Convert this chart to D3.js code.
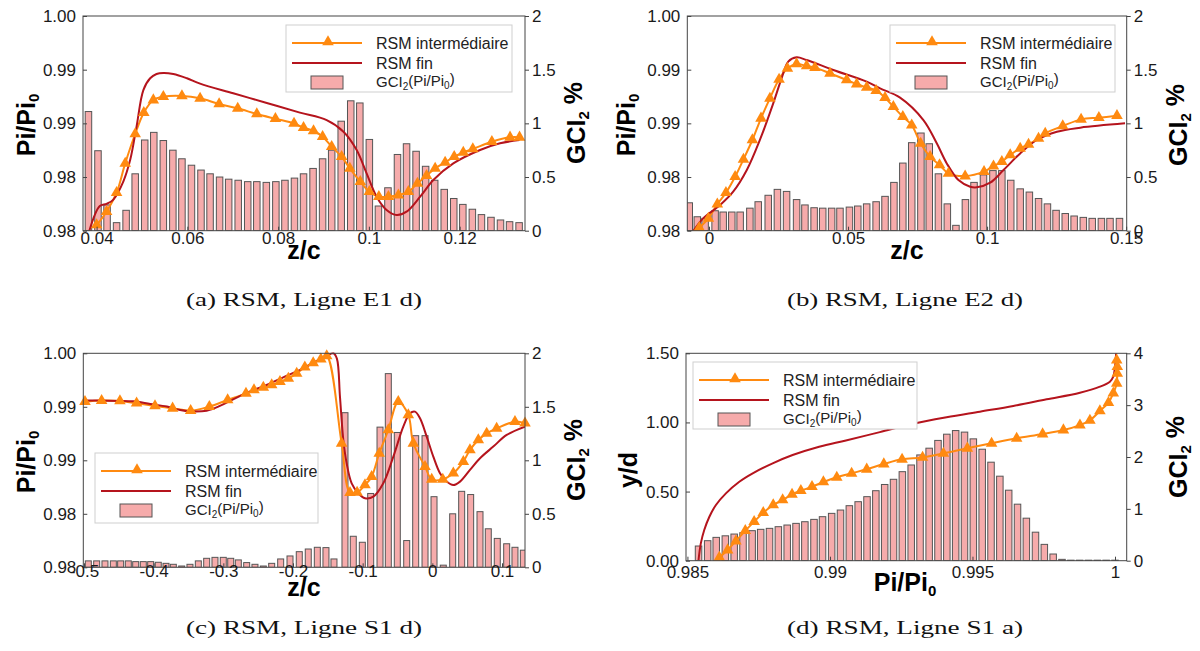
<!DOCTYPE html>
<html><head><meta charset="utf-8">
<script src="https://cdn.jsdelivr.net/npm/d3@7"></script>
<style>body{margin:0;background:#fff}svg{display:block}</style>
</head><body><svg id="chart" width="1200" height="651"></svg>
<script>
// ---------------- DATA ----------------
// Panel (a) RSM, Ligne E1 d)
const aBarZ = [0.0382,0.0403,0.0423,0.0444,0.0465,0.0485,0.0506,0.0526,0.0547,0.0568,0.0588,0.0609,0.0630,0.0650,0.0671,0.0691,0.0712,0.0733,0.0753,0.0774,0.0795,0.0815,0.0836,0.0856,0.0877,0.0898,0.0918,0.0939,0.0960,0.0980,0.1001,0.1021,0.1042,0.1063,0.1083,0.1104,0.1125,0.1145,0.1166,0.1187,0.1207,0.1228,0.1248,0.1269,0.1290,0.1310,0.1331];
const aBarGci = [1.11,0.745,0.24,0.075,0.19,0.53,0.845,0.916,0.84,0.75,0.67,0.61,0.565,0.53,0.50,0.48,0.47,0.457,0.457,0.45,0.457,0.47,0.49,0.53,0.58,0.67,0.75,1.02,1.21,1.19,0.85,0.23,0.40,0.71,0.81,0.74,0.60,0.47,0.385,0.30,0.245,0.20,0.15,0.125,0.10,0.084,0.075];
const aInter = [[0.0400,0.98053],[0.0422,0.98177],[0.0444,0.98354],[0.0463,0.98627],[0.0485,0.98901],[0.0504,0.99099],[0.0525,0.99217],[0.0547,0.99248],[0.0588,0.99255],[0.0628,0.99233],[0.0670,0.99180],[0.0711,0.99140],[0.0753,0.99087],[0.0794,0.99043],[0.0835,0.99000],[0.0856,0.98960],[0.0878,0.98929],[0.0898,0.98876],[0.0918,0.98783],[0.0940,0.98689],[0.0958,0.98581],[0.0981,0.98457],[0.1001,0.98363],[0.1022,0.98317],[0.1043,0.98317],[0.1065,0.98332],[0.1087,0.98363],[0.1107,0.98441],[0.1127,0.98512],[0.1146,0.98581],[0.1168,0.98637],[0.1188,0.98689],[0.1208,0.98730],[0.1229,0.98761],[0.1271,0.98829],[0.1311,0.98870],[0.1332,0.98870]];
const aFin = [[0.0384,0.9800],[0.0407,0.9823],[0.0422,0.9825],[0.0437,0.9829],[0.0459,0.9846],[0.0474,0.9866],[0.0488,0.9897],[0.0503,0.9931],[0.0518,0.9942],[0.0532,0.9946],[0.0547,0.9947],[0.0569,0.9946],[0.0599,0.9942],[0.0628,0.9937],[0.0701,0.9928],[0.0775,0.9919],[0.0848,0.9910],[0.0907,0.9903],[0.0944,0.98922],[0.0973,0.98752],[0.0995,0.98534],[0.1017,0.98317],[0.1039,0.98193],[0.1061,0.98146],[0.1083,0.98177],[0.1113,0.98317],[0.1142,0.98472],[0.1186,0.98627],[0.1245,0.98752],[0.1289,0.98814],[0.1332,0.98845]];
const aXTicks = [0.04,0.06,0.08,0.1,0.12];
const aXLabels = ["0.04","0.06","0.08","0.1","0.12"];

// Panel (b) RSM, Ligne E2 d)
const bBarZ = [-0.0071,-0.0042,-0.0014,0.0022,0.0051,0.0082,0.0112,0.0147,0.0177,0.0213,0.0246,0.0279,0.0315,0.0345,0.0378,0.0409,0.0441,0.0471,0.0505,0.0535,0.0567,0.0601,0.0633,0.0665,0.0697,0.0729,0.0762,0.0792,0.0825,0.0857,0.0888,0.0922,0.0953,0.0987,0.1021,0.1053,0.1085,0.1119,0.1152,0.1185,0.1217,0.1248,0.1281,0.1313,0.1346,0.1378,0.1411,0.1442,0.1476];
const bBarGci = [0.26,0.13,0.115,0.186,0.174,0.174,0.174,0.21,0.27,0.33,0.385,0.366,0.29,0.24,0.214,0.21,0.21,0.21,0.22,0.23,0.25,0.27,0.32,0.45,0.63,0.82,0.91,0.81,0.53,0.25,0.05,0.29,0.45,0.52,0.56,0.56,0.47,0.39,0.36,0.30,0.25,0.19,0.16,0.137,0.124,0.115,0.115,0.115,0.115];
const bInter = [[-0.0035,0.98028],[-0.0002,0.98115],[0.0030,0.98248],[0.0061,0.98354],[0.0094,0.98503],[0.0124,0.98665],[0.0156,0.98845],[0.0187,0.99047],[0.0219,0.99233],[0.0252,0.99410],[0.0282,0.99512],[0.0315,0.99553],[0.0351,0.99534],[0.0381,0.99519],[0.0435,0.99466],[0.0495,0.99404],[0.0531,0.99366],[0.0567,0.99335],[0.0601,0.99304],[0.0633,0.99239],[0.0663,0.99155],[0.0697,0.99062],[0.0729,0.98984],[0.0761,0.98814],[0.0795,0.98689],[0.0829,0.98612],[0.0861,0.98534],[0.0921,0.98509],[0.0989,0.98550],[0.1023,0.98602],[0.1053,0.98643],[0.1083,0.98705],[0.1119,0.98767],[0.1149,0.98804],[0.1185,0.98860],[0.1209,0.98907],[0.1272,0.98975],[0.1338,0.99037],[0.1402,0.99053],[0.1467,0.99071]];
const bFin = [[-0.0056,0.9800],[-0.0021,0.98115],[0.0040,0.98239],[0.0087,0.98363],[0.0136,0.98565],[0.0183,0.98845],[0.0231,0.99186],[0.0261,0.99419],[0.0285,0.99575],[0.0315,0.99615],[0.0351,0.99590],[0.0447,0.99497],[0.0567,0.99388],[0.0615,0.99326],[0.0687,0.99240],[0.0771,0.99031],[0.0819,0.98814],[0.0855,0.98627],[0.0897,0.98472],[0.0939,0.98410],[0.0963,0.98404],[0.1011,0.98447],[0.1059,0.98565],[0.1119,0.98720],[0.1179,0.98845],[0.1251,0.98922],[0.1335,0.98960],[0.1496,0.99000]];
const bXTicks = [0,0.05,0.1,0.15];
const bXLabels = ["0","0.05","0.1","0.15"];

// Panel (c) RSM, Ligne S1 d)
const cBarZ = [-0.4938,-0.4818,-0.4699,-0.4579,-0.4474,-0.4364,-0.4258,-0.4149,-0.4043,-0.3934,-0.3823,-0.3718,-0.3598,-0.3479,-0.3359,-0.3239,-0.3120,-0.3001,-0.2894,-0.2785,-0.2665,-0.2546,-0.2426,-0.2306,-0.2177,-0.2043,-0.1910,-0.1781,-0.1651,-0.1527,-0.1412,-0.1254,-0.1135,-0.1005,-0.0885,-0.0751,-0.0632,-0.0503,-0.0368,-0.0239,-0.0105,0.0024,0.0157,0.0292,0.0421,0.0550,0.0684,0.0803,0.0932,0.1067,0.1186,0.1306];
const cBarGci = [0.06,0.06,0.06,0.06,0.06,0.06,0.053,0.053,0.053,0.047,0.037,0.028,0.012,0.028,0.06,0.084,0.093,0.093,0.084,0.069,0.044,0.028,0.012,0.037,0.078,0.106,0.146,0.171,0.187,0.184,0.078,1.445,0.29,0.234,0.69,1.31,1.81,1.26,0.25,1.23,1.23,0.66,0.02,0.50,0.71,0.68,0.52,0.36,0.27,0.22,0.187,0.16];
const cInter = [[-0.4986,0.99548],[-0.4747,0.99558],[-0.4484,0.99555],[-0.4245,0.99533],[-0.3981,0.99508],[-0.3728,0.99486],[-0.3469,0.99464],[-0.3201,0.99502],[-0.2938,0.99564],[-0.2675,0.99626],[-0.2560,0.99657],[-0.2426,0.99682],[-0.2306,0.99704],[-0.2187,0.99735],[-0.2067,0.99766],[-0.1947,0.99813],[-0.1830,0.99870],[-0.1710,0.99910],[-0.1600,0.99945],[-0.1516,0.99975],[-0.1302,0.99159],[-0.1182,0.98698],[-0.1080,0.98700],[-0.0967,0.98769],[-0.0871,0.98847],[-0.0762,0.99065],[-0.0632,0.99283],[-0.0489,0.99548],[-0.0345,0.99424],[-0.0273,0.99159],[-0.0105,0.98941],[-0.0009,0.98822],[0.0150,0.98822],[0.0301,0.98879],[0.0445,0.98988],[0.0540,0.99097],[0.0660,0.99190],[0.0780,0.99252],[0.0923,0.99299],[0.1186,0.99361],[0.1330,0.99346]];
const cFin = [[-0.501,0.99558],[-0.477,0.99558],[-0.429,0.99551],[-0.405,0.99526],[-0.381,0.99502],[-0.362,0.99470],[-0.348,0.99458],[-0.324,0.99464],[-0.305,0.99508],[-0.286,0.99570],[-0.262,0.99642],[-0.238,0.99704],[-0.214,0.99775],[-0.190,0.99845],[-0.171,0.99910],[-0.152,0.99975],[-0.142,1.0000],[-0.137,0.99950],[-0.1326,0.99595],[-0.1278,0.99190],[-0.1230,0.98972],[-0.1158,0.98785],[-0.1062,0.98692],[-0.0967,0.98645],[-0.0847,0.98660],[-0.0704,0.98785],[-0.0560,0.99034],[-0.0417,0.99315],[-0.0321,0.99439],[-0.0249,0.99455],[-0.0177,0.99393],[-0.0081,0.99221],[0.0014,0.99034],[0.0110,0.98879],[0.0206,0.98801],[0.0301,0.98769],[0.0397,0.98801],[0.0540,0.98910],[0.0684,0.99019],[0.0875,0.99128],[0.1067,0.99237],[0.1330,0.99315]];
const cXTicks = [-0.5,-0.4,-0.3,-0.2,-0.1,0,0.1];
const cXLabels = ["-0.5","-0.4","-0.3","-0.2","-0.1","0","0.1"];

// Panel (d) RSM, Ligne S1 a)
const dBarPi = [0.98539,0.98571,0.98601,0.98633,0.98664,0.98695,0.98727,0.98757,0.98788,0.98819,0.98850,0.98881,0.98912,0.98944,0.98974,0.99006,0.99037,0.99068,0.99099,0.99130,0.99161,0.99192,0.99223,0.99254,0.99285,0.99316,0.99348,0.99379,0.99410,0.99441,0.99472,0.99503,0.99534,0.99565,0.99596,0.99627,0.99658,0.99689,0.99721,0.99752,0.99783,0.99814,0.99845,0.99876,0.99907,0.99938,0.99969,1.00000];
const dBarGci = [0.283,0.386,0.45,0.48,0.514,0.54,0.579,0.605,0.624,0.656,0.688,0.72,0.752,0.797,0.849,0.913,0.977,1.061,1.138,1.235,1.35,1.47,1.57,1.717,1.846,2.04,2.17,2.32,2.44,2.51,2.48,2.35,2.15,1.90,1.63,1.36,1.09,0.82,0.55,0.315,0.129,0.026,0.01,0.01,0.01,0.01,0.01,0.01];
const dInter = [[0.98612,0.024],[0.98641,0.077],[0.98670,0.142],[0.98703,0.217],[0.98734,0.282],[0.98766,0.347],[0.98801,0.403],[0.98834,0.439],[0.98867,0.480],[0.98898,0.506],[0.98937,0.535],[0.98977,0.569],[0.99024,0.603],[0.99076,0.632],[0.99129,0.661],[0.99189,0.699],[0.99253,0.733],[0.99325,0.747],[0.99398,0.776],[0.99482,0.813],[0.99567,0.849],[0.99655,0.885],[0.99746,0.916],[0.99819,0.945],[0.99877,0.981],[0.99912,1.015],[0.99947,1.083],[0.99977,1.143],[0.99994,1.211],[1.00006,1.283],[1.00008,1.355],[1.00008,1.403],[1.00006,1.451]];
const dFin = [[0.98539,0.005],[0.98547,0.125],[0.98559,0.222],[0.98577,0.318],[0.98600,0.403],[0.98635,0.487],[0.98682,0.571],[0.98729,0.632],[0.98799,0.704],[0.98869,0.764],[0.98962,0.824],[0.99056,0.870],[0.99175,0.930],[0.99292,0.990],[0.99409,1.037],[0.99526,1.078],[0.99643,1.119],[0.99760,1.167],[0.99877,1.215],[0.99947,1.259],[0.99982,1.295],[0.99994,1.331],[1.00000,1.403],[1.00004,1.499]];
const dXTicks = [0.985,0.99,0.995,1];
const dXLabels = ["0.985","0.99","0.995","1"];
const dYTicks = [0,0.5,1,1.5];
const dYLabels = ["0.00","0.50","1.00","1.50"];
const dGciTicks = [0,1,2,3,4];
const dGciLabels = ["0","1","2","3","4"];

// shared ticks
const piTicks = [0.98,0.985,0.99,0.995,1.0];
const piLabels = ["0.98","0.98","0.99","0.99","1.00"];
const gciTicks = [0,0.5,1,1.5,2];
const gciLabels = ["0","0.5","1","1.5","2"];

const legendLabels = ["RSM intermédiaire","RSM fin"];
const captions = ["(a) RSM, Ligne E1 d)","(b) RSM, Ligne E2 d)","(c) RSM, Ligne S1 d)","(d) RSM, Ligne S1 a)"];

// ---------------- DRAWING ----------------
const svg = d3.select('#chart');
const SANS = '"Liberation Sans", Arial, Helvetica, sans-serif';
const SERIF = '"Liberation Serif", "Times New Roman", serif';
const ORANGE = '#ff8a10', RED = '#b5141d', BARFILL = '#f6abab', BARSTROKE = '#555', AXIS = '#444';
const tri = d3.symbol(d3.symbolTriangle, 58);

function subText(sel, parts, subSize) {
  // parts: array of [text, isSub]
  let prevSub = false;
  parts.forEach(([t, isSub]) => {
    const ts = sel.append('tspan').text(t);
    if (isSub && !prevSub) ts.attr('dy', '0.3em').attr('font-size', subSize);
    else if (!isSub && prevSub) ts.attr('dy', '-0.3em');
    else if (isSub) ts.attr('font-size', subSize);
    prevSub = isSub;
  });
}

function drawPanel(p, idx) {
  const g = svg.append('g');
  const x = d3.scaleLinear().domain(p.xDomain).range([p.left, p.right]);
  const y = d3.scaleLinear().domain(p.yDomain).range([p.bottom, p.top]);
  const gs = d3.scaleLinear().domain(p.gDomain).range([p.bottom, p.top]);
  const clipId = 'clip' + idx;
  svg.append('clipPath').attr('id', clipId).append('rect')
    .attr('x', p.left).attr('y', p.top - 1).attr('width', p.right - p.left).attr('height', p.bottom - p.top + 1);
  const plot = g.append('g').attr('clip-path', `url(#${clipId})`);

  // bars
  plot.selectAll(null).data(p.barX.map((v, i) => [v, p.barG[i]])).join('rect')
    .attr('x', d => x(d[0]) - p.barW / 2).attr('width', p.barW)
    .attr('y', d => gs(d[1])).attr('height', d => Math.max(0.3, p.bottom - gs(d[1])))
    .attr('fill', BARFILL).attr('stroke', BARSTROKE).attr('stroke-width', 1);

  const line = d3.line().x(d => x(d[0])).y(d => y(d[1])).curve(d3.curveCatmullRom.alpha(0.5));
  plot.append('path').attr('d', line(p.inter)).attr('fill', 'none').attr('stroke', ORANGE).attr('stroke-width', 2);
  g.selectAll(null).data(p.inter).join('path').attr('d', tri)
    .attr('transform', d => `translate(${x(d[0])},${y(d[1])})`).attr('fill', ORANGE);
  plot.append('path').attr('d', line(p.fin)).attr('fill', 'none').attr('stroke', RED).attr('stroke-width', 2);

  // frame
  g.append('rect').attr('x', p.left).attr('y', p.top).attr('width', p.right - p.left).attr('height', p.bottom - p.top)
    .attr('fill', 'none').attr('stroke', AXIS).attr('stroke-width', 1);

  const styleAxis = (ax) => {
    ax.select('.domain').remove();
    ax.selectAll('line').attr('stroke', AXIS);
    ax.selectAll('text').attr('font-family', SANS).attr('font-size', 17).attr('fill', '#1a1a1a');
  };
  const axL = g.append('g').attr('transform', `translate(${p.left},0)`)
    .call(d3.axisLeft(y).tickValues(p.yTicks).tickFormat((d, i) => p.yLabels[i]).tickSize(-4).tickPadding(7));
  styleAxis(axL);
  const axB = g.append('g').attr('transform', `translate(0,${p.bottom})`)
    .call(d3.axisBottom(x).tickValues(p.xTicks).tickFormat((d, i) => p.xLabels[i]).tickSize(-4).tickPadding(p.xPad));
  styleAxis(axB);
  const axR = g.append('g').attr('transform', `translate(${p.right},0)`)
    .call(d3.axisRight(gs).tickValues(p.gTicks).tickFormat((d, i) => p.gLabels[i]).tickSize(4).tickPadding(3));
  styleAxis(axR);

  // axis titles
  const yt = g.append('text').attr('transform', `translate(${p.yTitle[0]},${p.yTitle[1]}) rotate(-90)`)
    .attr('text-anchor', 'middle').attr('dy', '0.35em').attr('font-family', SANS).attr('font-weight', 'bold').attr('font-size', 25);
  subText(yt, p.yTitleParts, 15);
  const gt = g.append('text').attr('transform', `translate(${p.gTitle[0]},${p.gTitle[1]}) rotate(-90)`)
    .attr('text-anchor', 'middle').attr('dy', '0.35em').attr('font-family', SANS).attr('font-weight', 'bold').attr('font-size', 25);
  subText(gt, [["GCI", false], ["2", true], [" %", false]], 15);
  const xt = g.append('text').attr('x', p.xTitle[0]).attr('y', p.xTitle[1])
    .attr('text-anchor', 'middle').attr('font-family', SANS).attr('font-weight', 'bold').attr('font-size', 25);
  subText(xt, p.xTitleParts, 15);

  // legend
  const L = p.legend;
  const lg = g.append('g').attr('transform', `translate(${L[0]},${L[1]})`);
  lg.append('rect').attr('width', L[2]).attr('height', L[3]).attr('fill', '#fff').attr('stroke', '#cfcfcf').attr('stroke-width', 1);
  lg.append('line').attr('x1', 6).attr('x2', 76).attr('y1', 18).attr('y2', 18).attr('stroke', ORANGE).attr('stroke-width', 2);
  lg.append('path').attr('d', tri).attr('transform', 'translate(42,17)').attr('fill', ORANGE);
  lg.append('line').attr('x1', 6).attr('x2', 76).attr('y1', 38).attr('y2', 38).attr('stroke', RED).attr('stroke-width', 2);
  lg.append('rect').attr('x', 25).attr('y', 51).attr('width', 32).attr('height', 13).attr('fill', BARFILL).attr('stroke', BARSTROKE);
  lg.selectAll(null).data(legendLabels).join('text').attr('x', 90).attr('y', (d, i) => 18 + i * 20).attr('dy', '0.35em')
    .attr('font-family', SANS).attr('font-size', 16).attr('fill', '#222').text(d => d);
  const gl = lg.append('text').attr('x', 90).attr('y', 57).attr('dy', '0.35em').attr('font-family', SANS).attr('font-size', 15).attr('fill', '#222');
  subText(gl, [["GCI", false], ["2", true], ["(Pi/Pi", false], ["0", true], [")", false]], 10);

  // caption
  svg.append('text').attr('x', p.caption[0]).attr('y', p.caption[1]).attr('text-anchor', 'middle')
    .attr('font-family', SERIF).attr('font-size', 19).attr('fill', '#111')
    .attr('textLength', 236).attr('lengthAdjust', 'spacingAndGlyphs').text(captions[idx]);
}

const piTitle = [["Pi/Pi", false], ["0", true]];
const panels = [
  { left: 83, top: 16, right: 525, bottom: 230.7, xDomain: [0.037, 0.1344], yDomain: [0.98, 1.0], gDomain: [0, 2],
    barX: aBarZ, barG: aBarGci, barW: 6.5, inter: aInter, fin: aFin,
    xTicks: aXTicks, xLabels: aXLabels, yTicks: piTicks, yLabels: piLabels, gTicks: gciTicks, gLabels: gciLabels, xPad: 1,
    yTitle: [26, 125], yTitleParts: piTitle, gTitle: [576, 123], xTitle: [304, 259], xTitleParts: [["z/c", false]],
    legend: [286, 25, 226, 67], caption: [304, 306] },
  { left: 687.3, top: 16, right: 1126.7, bottom: 230.7, xDomain: [-0.0078, 0.1502], yDomain: [0.98, 1.0], gDomain: [0, 2],
    barX: bBarZ, barG: bBarGci, barW: 6.5, inter: bInter, fin: bFin,
    xTicks: bXTicks, xLabels: bXLabels, yTicks: piTicks, yLabels: piLabels, gTicks: gciTicks, gLabels: gciLabels, xPad: 1,
    yTitle: [626, 125], yTitleParts: piTitle, gTitle: [1178, 125], xTitle: [907, 259], xTitleParts: [["z/c", false]],
    legend: [890, 25, 225, 67], caption: [905, 306] },
  { left: 83.3, top: 353.3, right: 525, bottom: 567.3, xDomain: [-0.501, 0.133], yDomain: [0.98, 1.0], gDomain: [0, 2],
    barX: cBarZ, barG: cBarGci, barW: 6, inter: cInter, fin: cFin,
    xTicks: cXTicks, xLabels: cXLabels, yTicks: piTicks, yLabels: piLabels, gTicks: gciTicks, gLabels: gciLabels, xPad: -2,
    yTitle: [26, 462], yTitleParts: piTitle, gTitle: [576, 460], xTitle: [304, 596], xTitleParts: [["z/c", false]],
    legend: [95, 453, 223, 70], caption: [304, 634] },
  { left: 686, top: 353.3, right: 1126.7, bottom: 560.7, xDomain: [0.98495, 1.00041], yDomain: [0, 1.5], gDomain: [0, 4],
    barX: dBarPi, barG: dBarGci, barW: 6.5, inter: dInter, fin: dFin,
    xTicks: dXTicks, xLabels: dXLabels, yTicks: dYTicks, yLabels: dYLabels, gTicks: dGciTicks, gLabels: dGciLabels, xPad: 5,
    yTitle: [628, 470], yTitleParts: [["y/d", false]], gTitle: [1178, 457], xTitle: [905, 591], xTitleParts: piTitle,
    legend: [693, 362, 224, 67], caption: [905, 634] }
];
panels.forEach(drawPanel);
</script></body></html>
